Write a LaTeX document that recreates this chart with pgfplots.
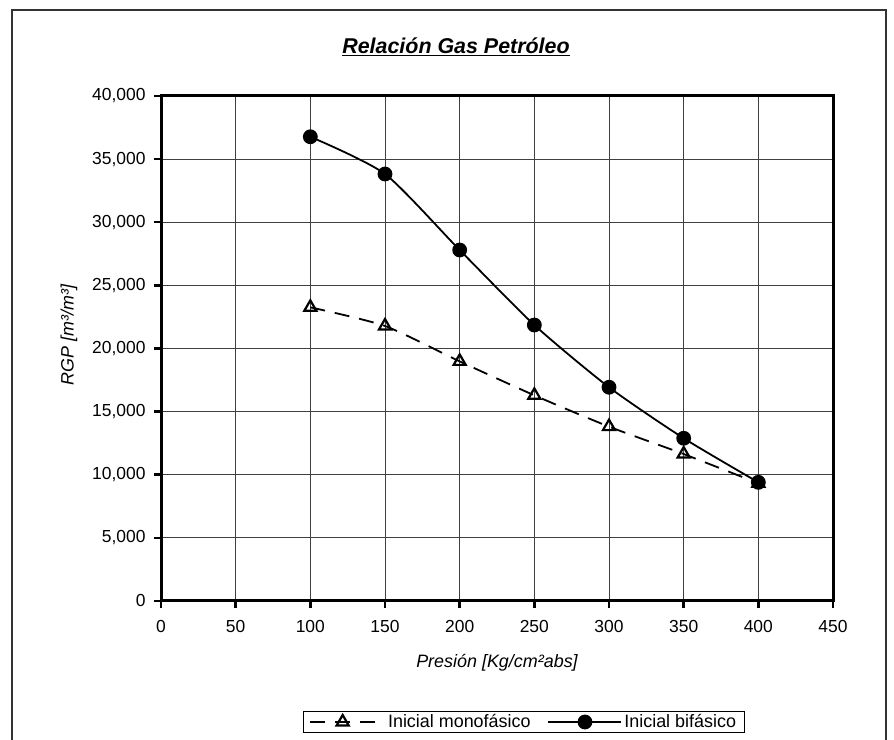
\documentclass[border=0pt]{standalone}
\usepackage{pgfplots}
\pgfplotsset{compat=1.18}
\usepackage{fontspec}
\setmainfont{Liberation Sans}
\begin{document}
\begin{tikzpicture}[x=1bp,y=1bp]
\useasboundingbox (0,0) rectangle (894,740);
\fill[white] (0,0) rectangle (894,740);
\draw[line width=1.2bp, black!80] (12,-10) -- (12,730) -- (886,730) -- (886,-10);
\node[anchor=base, font=\fontsize{21.5}{25}\selectfont\bfseries\itshape] at (456,686) {\underline{Relación Gas Petróleo}};
\node[anchor=base, font=\fontsize{18}{21}\selectfont\itshape] at (497,72) {Presión [Kg/cm²abs]};
\node[rotate=90, font=\fontsize{18}{21}\selectfont\itshape] at (69,405) {RGP [m³/m³]};
\begin{axis}[
  at={(161bp,139bp)}, anchor=south west,
  scale only axis, width=672bp, height=505bp,
  xmin=0, xmax=450, ymin=0, ymax=40000,
  xtick={0,50,...,450}, ytick={0,5000,...,40000},
  scaled y ticks=false,
  /pgf/number format/.cd, 1000 sep={,}, assume math mode=true,
  /pgfplots/.cd,
  tick label style={font=\fontsize{17.5}{20}\selectfont},
  grid=major,
  major grid style={line width=0.9bp, black!75},
  axis line style={line width=3bp},
  tick align=outside, major tick length=7bp,
  tick style={line width=2.5bp, black},
  xtick pos=bottom, ytick pos=left,
  xticklabel style={yshift=-9bp},
  yticklabel style={xshift=-5bp},
  legend style={at={(0.5394,-0.2396)}, anchor=center, legend columns=2,
    draw=black, line width=0.8bp, font=\fontsize{18}{21}\selectfont,
    inner xsep=6bp, inner ysep=1bp,
    /tikz/every even column/.append style={column sep=15bp}},
]
\addplot[black, line width=1.8bp, dash pattern=on 15bp off 10bp, smooth, tension=0.4,
  mark=triangle, mark size=7bp, mark options={solid, line width=2.2bp, fill=white},
  legend image code/.code={\draw[mark repeat=2, mark phase=2, line width=2.4bp] plot coordinates {(0bp,0bp) (32.5bp,0bp) (65bp,0bp)}; \path (75bp,0bp);}]
  coordinates {(100,23260) (150,21780) (200,18980) (250,16290) (300,13810) (350,11640) (400,9320)};
\addlegendentry{Inicial monofásico}
\addplot[black, line width=1.8bp, smooth, tension=0.4,
  mark=*, mark size=6.5bp, mark options={solid, fill=black},
  legend image code/.code={\draw[mark repeat=2, mark phase=2] plot coordinates {(0bp,0bp) (36.5bp,0bp) (73bp,0bp)};}]
  coordinates {(100,36770) (150,33820) (200,27800) (250,21860) (300,16930) (350,12890) (400,9400)};
\addlegendentry{Inicial bifásico}
\end{axis}
\end{tikzpicture}
\end{document}
